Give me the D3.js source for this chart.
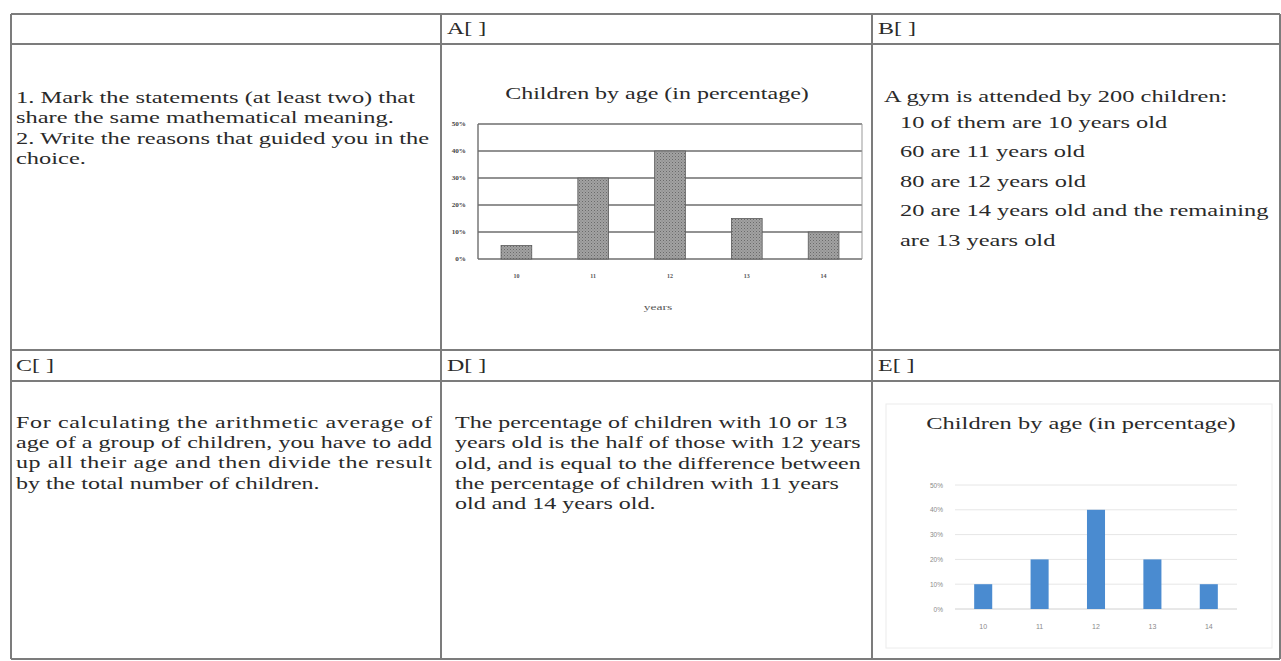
<!DOCTYPE html>
<html><head><meta charset="utf-8">
<script src="https://cdn.jsdelivr.net/npm/d3@7"></script>
<style>
html,body{margin:0;padding:0;background:#fff;}
svg{display:block;}
</style></head>
<body>
<script>
// ---------- data ----------
const ageCategories = ["10","11","12","13","14"];
const percentA = [5, 30, 40, 15, 10];
const percentE = [10, 20, 40, 20, 10];
const yTickValues = [0, 10, 20, 30, 40, 50];
const chartTitle = "Children by age (in percentage)";
const axisTitleA = "years";
const headerLabels = ["A[ ]", "B[ ]", "C[ ]", "D[ ]", "E[ ]"];
const introLines = ["1. Mark the statements (at least two) that", "share the same mathematical meaning.", "2. Write the reasons that guided you in the", "choice."];
const gymLines = ["A gym is attended by 200 children:", "10 of them are 10 years old", "60 are 11 years old", "80 are 12 years old", "20 are 14 years old and the remaining", "are 13 years old"];
const statementC = ["For calculating the arithmetic average of", "age of a group of children, you have to add", "up all their age and then divide the result", "by the total number of children."];
const statementD = ["The percentage of children with 10 or 13", "years old is the half of those with 12 years", "old, and is equal to the difference between", "the percentage of children with 11 years", "old and 14 years old."];

// ---------- layout ----------
const W = 1281, H = 661;
const SX = 1.5; // horizontal stretch of the scanned text
const FONT = "'Liberation Serif','Times New Roman',serif";
const svg = d3.select("body").append("svg").attr("width", W).attr("height", H);

const colX = [11, 441, 872, 1280];
const rowY = [14, 44, 350, 381, 659];

// table lines
const lineColor = "#7c7c7c";
rowY.forEach(y => svg.append("line").attr("x1", colX[0]).attr("x2", colX[3]).attr("y1", y).attr("y2", y)
  .attr("stroke", lineColor).attr("stroke-width", 2));
colX.forEach(x => svg.append("line").attr("x1", x).attr("x2", x).attr("y1", rowY[0]).attr("y2", rowY[4])
  .attr("stroke", lineColor).attr("stroke-width", 2));

function stext(x, y, s, size, opts = {}) {
  const t = svg.append("text")
    .attr("transform", `translate(${x},${y}) scale(${opts.sx || SX},1)`)
    .attr("font-family", opts.family || FONT)
    .attr("font-size", size)
    .attr("fill", opts.fill || "#2a2a2a")
    .attr("text-anchor", opts.anchor || "start")
    .text(s);
  if (opts.justify) t.attr("textLength", opts.justify / (opts.sx || SX)).attr("lengthAdjust", "spacing");
  return t;
}

// headers
const headerPos = [[447, 34], [878, 34], [16, 371], [447, 371], [878, 371]];
headerLabels.forEach((h, i) => stext(headerPos[i][0], headerPos[i][1], h, 16));

// intro cell
const introBase = [103, 123, 144, 164];
introLines.forEach((s, i) => stext(16, introBase[i], s, 16.3));

// B cell
const gymBase = [102, 128, 157, 187, 216, 246];
const gymX = [884, 900, 900, 900, 900, 900];
gymLines.forEach((s, i) => stext(gymX[i], gymBase[i], s, 16.3));

// C cell (justified)
const cBase = [428, 448, 468, 489];
statementC.forEach((s, i) => stext(16, cBase[i], s, 16, i < statementC.length - 1 ? {justify: 416} : {}));

// D cell
statementD.forEach((s, i) => stext(455, 428 + i * 20.3, s, 16));

// ---------- Chart A ----------
const defs = svg.append("defs");
const pat = defs.append("pattern").attr("id", "hatch").attr("patternUnits", "userSpaceOnUse")
  .attr("width", 3).attr("height", 3);
pat.append("rect").attr("width", 3).attr("height", 3).attr("fill", "#a2a2a2");
pat.append("rect").attr("width", 1).attr("height", 1).attr("fill", "#6a6a6a");
pat.append("rect").attr("x", 1.5).attr("y", 1.5).attr("width", 1).attr("height", 1).attr("fill", "#7e7e7e");

const xA = d3.scaleBand().domain(ageCategories).range([478, 862]).paddingInner(0.6).paddingOuter(0.3);
const yA = d3.scaleLinear().domain([0, 50]).range([259, 124]);

stext(657, 99, chartTitle, 16, {anchor: "middle"});

const gA = svg.append("g");
gA.selectAll("line.grid").data(yTickValues).join("line")
  .attr("x1", 478).attr("x2", 862).attr("y1", d => yA(d)).attr("y2", d => yA(d))
  .attr("stroke", "#6e6e6e").attr("stroke-width", 1.4);
gA.append("line").attr("x1", 478).attr("x2", 478).attr("y1", yA(50)).attr("y2", yA(0)).attr("stroke", "#6e6e6e").attr("stroke-width", 1.4);
gA.append("line").attr("x1", 862).attr("x2", 862).attr("y1", yA(50)).attr("y2", yA(0)).attr("stroke", "#999").attr("stroke-width", 1);

gA.selectAll("rect.bar").data(percentA).join("rect")
  .attr("x", (d, i) => xA(ageCategories[i])).attr("width", xA.bandwidth())
  .attr("y", d => yA(d)).attr("height", d => yA(0) - yA(d))
  .attr("fill", "url(#hatch)").attr("stroke", "#5a5a5a").attr("stroke-width", 0.8);

const axAy = d3.axisLeft(yA).tickValues(yTickValues).tickFormat(d => d + "%").tickSize(0).tickPadding(7);
const gAy = svg.append("g").attr("transform", "translate(475,0)").call(axAy);
gAy.select(".domain").remove();
gAy.selectAll("text").attr("font-size", 5.5).attr("font-family", FONT).attr("fill", "#444")
  .attr("font-weight", "bold").attr("transform", "scale(1.3,1)");

const axAx = d3.axisBottom(xA).tickSize(0).tickPadding(15);
const gAx = svg.append("g").attr("transform", `translate(0,${yA(0)})`).call(axAx);
gAx.select(".domain").remove();
gAx.selectAll("text").attr("font-size", 6).attr("font-family", FONT).attr("fill", "#555").attr("font-weight", "bold");

stext(658, 310, axisTitleA, 9, {anchor: "middle", fill: "#555"});

// ---------- Chart E ----------
svg.append("rect").attr("x", 886).attr("y", 404).attr("width", 386).attr("height", 244)
  .attr("fill", "none").attr("stroke", "#ececec").attr("stroke-width", 1);

const xE = d3.scaleBand().domain(ageCategories).range([955, 1237]).paddingInner(0.68).paddingOuter(0.34);
const yE = d3.scaleLinear().domain([0, 50]).range([609, 485]);

stext(1081, 429, chartTitle, 16.3, {anchor: "middle"});

const gE = svg.append("g");
gE.selectAll("line").data(yTickValues).join("line")
  .attr("x1", 955).attr("x2", 1237).attr("y1", d => yE(d)).attr("y2", d => yE(d))
  .attr("stroke", d => d === 0 ? "#d0d0d0" : "#e6e6e6").attr("stroke-width", 1);
gE.selectAll("rect").data(percentE).join("rect")
  .attr("x", (d, i) => xE(ageCategories[i])).attr("width", xE.bandwidth())
  .attr("y", d => yE(d)).attr("height", d => yE(0) - yE(d))
  .attr("fill", "#4a8bd0");

const axEy = d3.axisLeft(yE).tickValues(yTickValues).tickFormat(d => d + "%").tickSize(0).tickPadding(12);
const gEy = svg.append("g").attr("transform", "translate(955,0)").call(axEy);
gEy.select(".domain").remove();
gEy.selectAll("text").attr("font-size", 6.5).attr("font-family", "'Liberation Sans',Arial,sans-serif").attr("fill", "#8a8a8a");

const axEx = d3.axisBottom(xE).tickSize(0).tickPadding(15);
const gEx = svg.append("g").attr("transform", `translate(0,${yE(0)})`).call(axEx);
gEx.select(".domain").remove();
gEx.selectAll("text").attr("font-size", 7).attr("font-family", "'Liberation Sans',Arial,sans-serif").attr("fill", "#8a8a8a");
</script>
</body></html>
